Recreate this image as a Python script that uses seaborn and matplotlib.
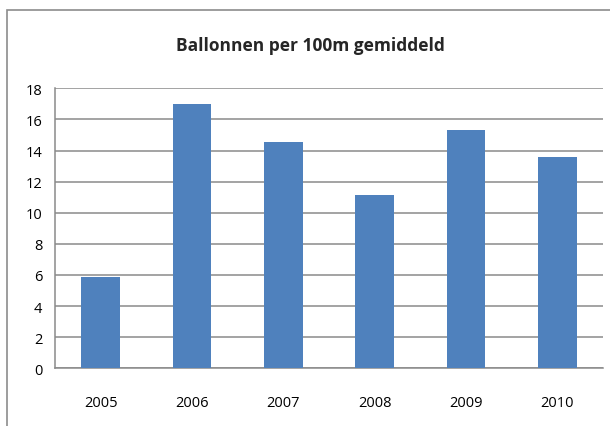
import matplotlib
matplotlib.use('Agg')
import matplotlib.pyplot as plt
import seaborn as sns
import pandas as pd
from matplotlib.patches import Rectangle

# data
years = ['2005', '2006', '2007', '2008', '2009', '2010']
ballonnen = [5.85, 17.0, 14.55, 11.15, 15.3, 13.6]
y_ticks = [0, 2, 4, 6, 8, 10, 12, 14, 16, 18]
title = 'Ballonnen per 100m gemiddeld'

sns.set_theme(style='white')
plt.rcParams['font.family'] = ['Open Sans', 'DejaVu Sans']

df = pd.DataFrame({'jaar': years, 'ballonnen': ballonnen})

fig = plt.figure(figsize=(6.1, 4.27), dpi=100)
ax = fig.add_axes([55 / 610, 1 - 369.3 / 427, (603 - 55) / 610, (369.3 - 89.3) / 427])

# chart frame (runs off the right and bottom edges like in the original)
fig.patches.append(Rectangle((7 / 610, -0.1), 1.2, 1 - 11 / 427 + 0.1,
                             transform=fig.transFigure, fill=False,
                             edgecolor='#8c8c8c', linewidth=1.2))

sns.barplot(data=df, x='jaar', y='ballonnen', color='#4f81bd', saturation=1,
            width=0.42, linewidth=0, ax=ax, zorder=3)

ax.set_ylim(0, 18)
ax.set_yticks(y_ticks)
ax.yaxis.grid(True, color='#8a8a8a', linewidth=1.1)
ax.set_axisbelow(True)
ax.set_xlabel('')
ax.set_ylabel('')
for s in ['top', 'right']:
    ax.spines[s].set_visible(False)
for s in ['left', 'bottom']:
    ax.spines[s].set_color('#8a8a8a')
    ax.spines[s].set_linewidth(1.1)
ax.tick_params(axis='y', length=0, pad=9, labelsize=10.5, colors='#000000')
ax.tick_params(axis='x', length=0, pad=19, labelsize=10.5, colors='#000000')

fig.text(310 / 610, 1 - 46 / 427, title, ha='center', va='center',
         fontsize=12.5, fontweight='bold')

fig.savefig('out.png', dpi=100)
